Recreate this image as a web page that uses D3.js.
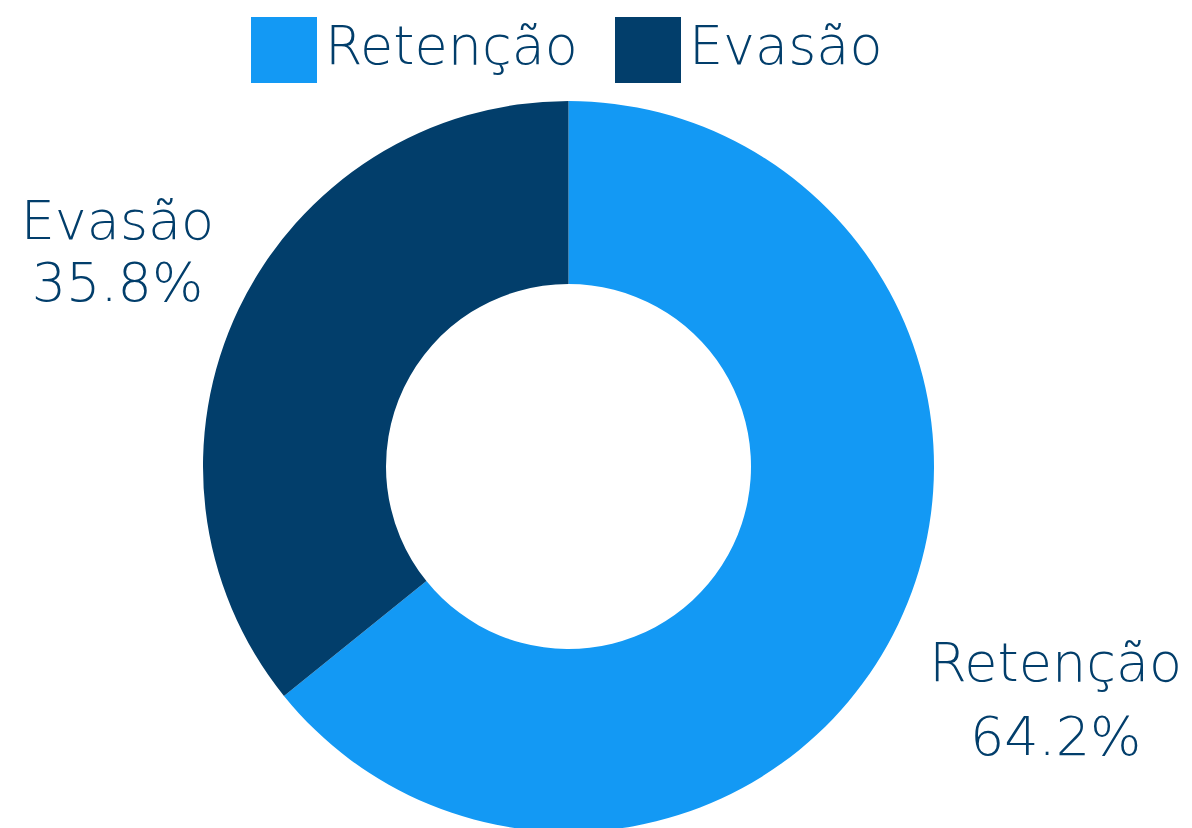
<!DOCTYPE html>
<html>
<head>
<meta charset="utf-8">
<script src="https://cdn.jsdelivr.net/npm/d3@7"></script>
<style>
html, body { margin: 0; padding: 0; background: #fff; }
svg { display: block; font-family: "DejaVu Sans", sans-serif; }
</style>
</head>
<body>
<svg id="chart" width="1192" height="828"></svg>
<script>
const categories = ["Retenção", "Evasão"];
const values = [64.2, 35.8];
const colors = ["#1399F4", "#023E6B"];
const textColor = "#023E6B";

const svg = d3.select("#chart");
const cx = 568.5, cy = 466.5;
const outerR = 365.5, innerR = 182.5;

const data = categories.map((c, i) => ({ name: c, value: values[i], color: colors[i] }));
const pie = d3.pie().value(d => d.value).sort(null);
const arcs = pie(data);
const arc = d3.arc().innerRadius(innerR).outerRadius(outerR);

const g = svg.append("g").attr("transform", `translate(${cx},${cy})`);
g.selectAll("path.slice").data(arcs).enter().append("path")
  .attr("class", "slice")
  .attr("d", arc)
  .attr("fill", d => d.data.color);

// slice labels
const labelRadius = { "Retenção": 540, "Evasão": 500 };
const fmt = d3.format(".1f");
arcs.forEach(a => {
  const mid = (a.startAngle + a.endAngle) / 2;
  const r = labelRadius[a.data.name];
  const x = Math.sin(mid) * r;
  const y = -Math.cos(mid) * r;
  const gap = a.data.name === "Retenção" ? 37 : 31;
  const t = g.append("text")
    .attr("x", x).attr("y", y)
    .attr("text-anchor", "middle")
    .attr("fill", textColor)
    .attr("font-weight", 200)
    .attr("font-size", 54);
  t.append("tspan").attr("x", x).attr("y", y - gap + 19).text(a.data.name);
  t.append("tspan").attr("x", x).attr("y", y + gap + 19).text(fmt(a.data.value) + "%");
});

// legend
const legendX = [251, 615];
const leg = svg.append("g");
data.forEach((d, i) => {
  leg.append("rect")
    .attr("x", legendX[i]).attr("y", 17)
    .attr("width", 66).attr("height", 66)
    .attr("fill", d.color);
  leg.append("text")
    .attr("x", legendX[i] + 74).attr("y", 64)
    .attr("fill", textColor)
    .attr("font-weight", 200)
    .attr("font-size", 54)
    .text(d.name);
});
</script>
</body>
</html>
